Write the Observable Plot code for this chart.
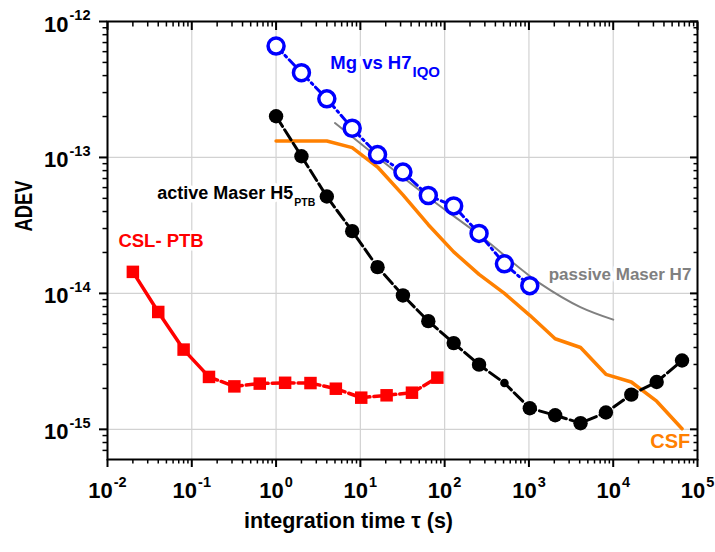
<!DOCTYPE html>
<html><head><meta charset="utf-8">
<script src="https://cdn.jsdelivr.net/npm/d3@7"></script>
<script src="https://cdn.jsdelivr.net/npm/@observablehq/plot@0.6"></script>
<style>body{margin:0;background:#fff}</style>
</head><body><div id="chart"></div>
<script>
// Mg vs H7 (IQO)
const tauMg  = [1, 2, 4, 8, 16, 32, 64, 128, 256, 512, 1024];
const adevMg = [6.6e-13, 4.2e-13, 2.7e-13, 1.64e-13, 1.05e-13, 7.8e-14, 5.25e-14, 4.4e-14, 2.76e-14, 1.65e-14, 1.14e-14];
// active Maser H5 (PTB)
const tauH5  = [1, 2, 4, 8, 16, 32, 64, 128, 256, 512, 1024, 2048, 4096, 8192, 16384, 32768, 65536];
const adevH5 = [2.01e-13, 1.02e-13, 5.16e-14, 2.87e-14, 1.56e-14, 9.66e-15, 6.25e-15, 4.31e-15, 2.99e-15, 2.19e-15, 1.43e-15, 1.27e-15, 1.11e-15, 1.33e-15, 1.80e-15, 2.23e-15, 3.21e-15];
// CSL- PTB
const tauCSL  = [0.02, 0.04, 0.08, 0.16, 0.32, 0.64, 1.28, 2.56, 5.12, 10.24, 20.48, 40.96, 81.92];
const adevCSL = [1.44e-14, 7.3e-15, 3.86e-15, 2.43e-15, 2.07e-15, 2.17e-15, 2.2e-15, 2.19e-15, 1.99e-15, 1.71e-15, 1.78e-15, 1.86e-15, 2.4e-15];
// CSF
const tauCSF  = [1, 2, 4, 8, 16, 32, 64, 128, 256, 512, 1024, 2048, 4096, 8192, 16384, 32768, 65536];
const adevCSF = [1.32e-13, 1.32e-13, 1.32e-13, 1.18e-13, 8.5e-14, 5.3e-14, 3.2e-14, 2.02e-14, 1.38e-14, 1.0e-14, 6.9e-15, 4.64e-15, 4.0e-15, 2.54e-15, 2.23e-15, 1.61e-15, 1.01e-15];
// passive Maser H7
const tauH7  = [5, 20, 81, 256, 1365, 4074, 10000];
const adevH7 = [1.79e-13, 9.0e-14, 4.57e-14, 2.7e-14, 1.18e-14, 7.93e-15, 6.41e-15];

// axis ticks
const xMajor = [1e-2, 1e-1, 1, 1e1, 1e2, 1e3, 1e4, 1e5];
const yMajor = [1e-15, 1e-14, 1e-13, 1e-12];
const xMinor = d3.range(-2, 5).flatMap(e => d3.range(2, 10).map(k => k * 10 ** e));
const yMinor = d3.range(-16, -12).flatMap(e => d3.range(2, 10).map(k => k * 10 ** e)).filter(v => v > 6.05e-16 && v < 1e-12);

const zip = (t, a) => t.map((tau, i) => ({tau, adev: a[i]}));
const mg = zip(tauMg, adevMg), h5 = zip(tauH5, adevH5), csl = zip(tauCSL, adevCSL), csf = zip(tauCSF, adevCSF), h7 = zip(tauH7, adevH7);

const fmt = d => "10^" + Math.round(Math.log10(d));
const none = () => "";
const lab = {fontWeight: "bold", textAnchor: "start", lineAnchor: "bottom", stroke: "white", strokeWidth: 7};

const chart = Plot.plot({
  width: 715, height: 552,
  marginLeft: 107, marginRight: 18, marginTop: 21, marginBottom: 93,
  style: {fontFamily: "'Liberation Sans', Arial, sans-serif", background: "white", color: "black"},
  x: {type: "log", domain: [1e-2, 1e5]},
  y: {type: "log", domain: [6e-16, 1e-12]},
  marks: [
    Plot.gridX(xMajor, {stroke: "#d2d2d2", strokeOpacity: 1, strokeWidth: 1.2}),
    Plot.gridY(yMajor, {stroke: "#d2d2d2", strokeOpacity: 1, strokeWidth: 1.2}),
    // labels (white halo hides the grid behind them)
    Plot.text(["Mg vs H7_IQO"], {...lab, x: 4.4, y: 4.51e-13, fill: "#0000ff", fontSize: 18.5}),
    Plot.text(["active Maser H5_PTB"], {...lab, x: 0.0388, y: 4.91e-14, fill: "black", fontSize: 18}),
    Plot.text(["CSL- PTB"], {...lab, x: 0.01346, y: 2.19e-14, fill: "#ff0000", fontSize: 18.5}),
    Plot.text(["passive Maser H7"], {...lab, x: 1714, y: 1.25e-14, fill: "#808080", fontSize: 17}),
    Plot.text(["CSF"], {...lab, textAnchor: "end", x: 82200, y: 7.24e-16, fill: "#ff8000", fontSize: 20}),
    // series
    Plot.line(h7, {x: "tau", y: "adev", stroke: "#808080", strokeWidth: 2, curve: "monotone-x"}),
    Plot.line(csf, {x: "tau", y: "adev", stroke: "#ff8000", strokeWidth: 3.5}),
    Plot.line(h5, {x: "tau", y: "adev", stroke: "black", strokeWidth: 3, strokeDasharray: "12,4"}),
    Plot.dot(h5.filter(d => d.tau !== 512), {x: "tau", y: "adev", r: 7.2, fill: "black"}),
    Plot.dot(h5.filter(d => d.tau === 512), {x: "tau", y: "adev", r: 4.3, fill: "black"}),
    Plot.line(csl.filter(d => d.tau <= 0.16), {x: "tau", y: "adev", stroke: "#ff0000", strokeWidth: 3.5}),
    Plot.line(csl.filter(d => d.tau >= 0.16), {x: "tau", y: "adev", stroke: "#ff0000", strokeWidth: 3.5, strokeDasharray: "9,4"}),
    Plot.dot(csl, {x: "tau", y: "adev", symbol: "square", r: 7.05, fill: "#ff0000"}),
    Plot.line(mg, {x: "tau", y: "adev", stroke: "#0000ff", strokeWidth: 3, strokeDasharray: "9,4,2,4"}),
    Plot.dot(mg, {x: "tau", y: "adev", r: 8, stroke: "#0000ff", strokeWidth: 3.5, fill: "white"}),
    Plot.frame({stroke: "black", strokeWidth: 2}),
    // axes
    Plot.axisX(xMajor, {tickSize: 8, strokeWidth: 2, tickPadding: 15, tickFormat: fmt, fontSize: 22, fontWeight: "bold", label: null}),
    Plot.axisX(xMinor, {tickSize: 4.5, strokeWidth: 1.5, tickFormat: none, label: null}),
    Plot.axisX(xMajor, {anchor: "top", tickSize: 8, dy: 8, strokeWidth: 2, tickFormat: none, label: null}),
    Plot.axisX(xMinor, {anchor: "top", tickSize: 4.5, dy: 4.5, strokeWidth: 1.5, tickFormat: none, label: null}),
    Plot.axisY(yMajor, {tickSize: 8, strokeWidth: 2, tickPadding: 9, tickFormat: fmt, fontSize: 22, fontWeight: "bold", label: null}),
    Plot.axisY(yMinor, {tickSize: 4.5, strokeWidth: 1.5, tickFormat: none, label: null}),
    Plot.axisY(yMajor, {anchor: "right", tickSize: 8, dx: -8, strokeWidth: 2, tickFormat: none, label: null}),
    Plot.axisY(yMinor, {anchor: "right", tickSize: 4.5, dx: -4.5, strokeWidth: 1.5, tickFormat: none, label: null}),
    // axis titles
    Plot.text(["ADEV"], {frameAnchor: "left", dx: -83, dy: -9, rotate: -90, fontSize: 23, fontWeight: "bold", fill: "black"}),
    Plot.text(["integration time τ (s)"], {frameAnchor: "bottom", dx: -54, dy: 68, lineAnchor: "bottom", fontSize: 21.5, fontWeight: "bold", fill: "black"})
  ]
});
document.getElementById("chart").append(chart);

// superscripts in tick labels, subscripts in series labels
const NS = "http://www.w3.org/2000/svg";
const span = (txt, attrs) => { const s = document.createElementNS(NS, "tspan"); s.textContent = txt; for (const k in attrs) s.setAttribute(k, attrs[k]); return s; };
chart.querySelectorAll('g[aria-label="x-axis tick label"] text, g[aria-label="y-axis tick label"] text').forEach(t => {
  const s = t.textContent, i = s.indexOf("^");
  if (i < 0) return;
  const isY = t.parentNode.getAttribute("aria-label").startsWith("y");
  t.textContent = "";
  t.setAttribute("font-size", 22);
  t.setAttribute("font-weight", "bold");
  t.append(span(s.slice(0, i), isY ? {dy: 3} : {}), span(s.slice(i + 1), {"font-size": 14.5, dy: -11.5, dx: 1}));
});
const subs = {IQO: {size: 15, dy: 8.5}, PTB: {size: 10.5, dy: 6.5}};
chart.querySelectorAll("text").forEach(t => {
  const s = t.textContent, i = s.indexOf("_");
  if (i < 0 || t.children.length) return;
  const sub = s.slice(i + 1), o = subs[sub];
  t.textContent = "";
  t.append(span(s.slice(0, i), {}), span(sub, {"font-size": o.size, dy: o.dy, dx: 1}));
});
chart.querySelectorAll("text").forEach(t => {
  if (t.textContent === "ADEV") { t.setAttribute("textLength", 51); t.setAttribute("lengthAdjust", "spacingAndGlyphs"); }
});
</script></body></html>
